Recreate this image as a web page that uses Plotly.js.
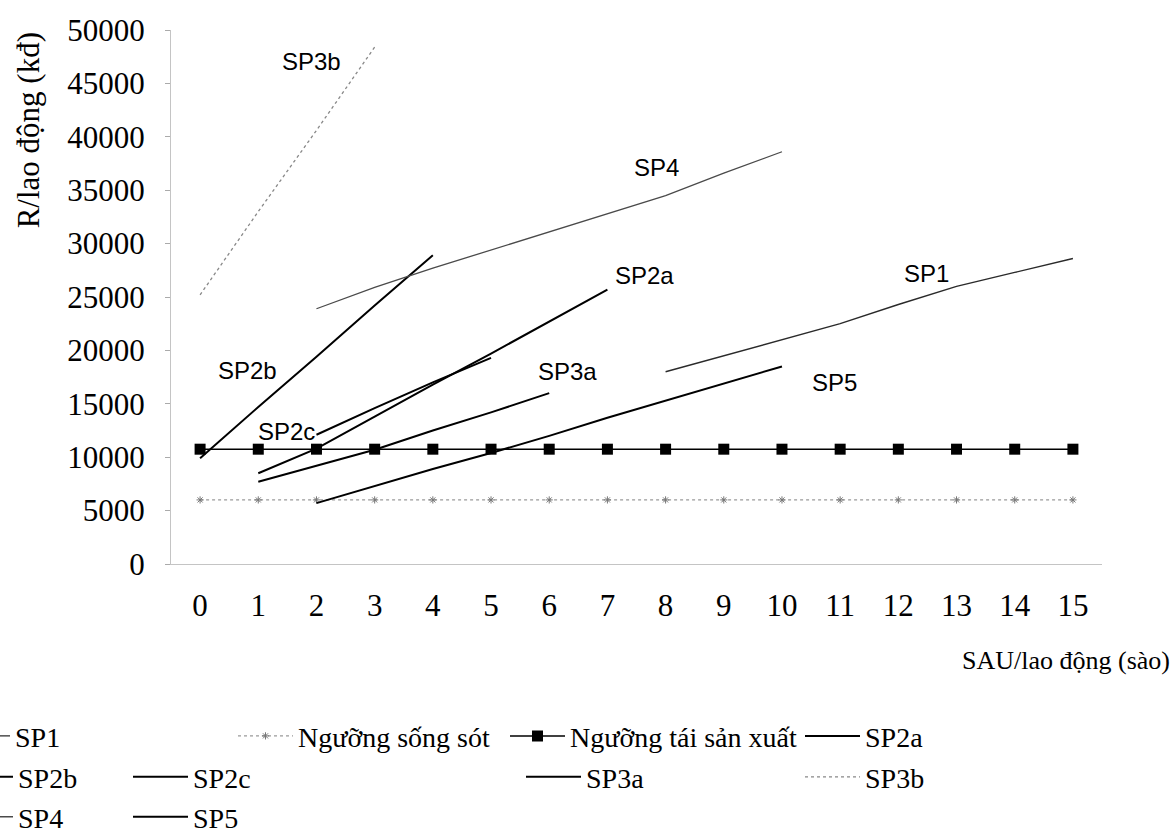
<!DOCTYPE html>
<html>
<head>
<meta charset="utf-8">
<script src="https://cdn.plot.ly/plotly-3.0.1.min.js"></script>
<style>html,body{margin:0;padding:0;background:#fff;}#chart{width:1174px;height:839px;}</style>
</head>
<body>
<div id="chart"></div>
<script>
// ---- data ----
const xAll = [0,1,2,3,4,5,6,7,8,9,10,11,12,13,14,15];
const survival = [6000,6000,6000,6000,6000,6000,6000,6000,6000,6000,6000,6000,6000,6000,6000,6000];
const reproduction = [10750,10750,10750,10750,10750,10750,10750,10750,10750,10750,10750,10750,10750,10750,10750,10750];
const sp1X = [8,9,10,11,12,13,14,15];
const sp1Y = [18000,19500,21000,22500,24300,26000,27300,28600];
const sp2aX = [1,2,3,4,5,6,7];
const sp2aY = [8500,10800,13800,16800,19700,22700,25700];
const sp2bX = [0,1,2,3,4];
const sp2bY = [9900,14700,19400,24200,28900];
const sp2cX = [2,3,4,5];
const sp2cY = [12100,14600,17000,19300];
const sp3aX = [1,2,3,4,5,6];
const sp3aY = [7700,9200,10700,12500,14200,16000];
const sp3bX = [0,1,2,3];
const sp3bY = [25200,33000,40600,48400];
const sp4X = [2,3,4,5,6,7,8,9,10];
const sp4Y = [23900,25900,27700,29400,31100,32800,34500,36600,38600];
const sp5X = [2,3,4,5,6,7,8,9,10];
const sp5Y = [5700,7300,8900,10400,12000,13700,15300,16900,18500];
const names = ['SP1','Ngưỡng sống sót','Ngưỡng tái sản xuất','SP2a','SP2b','SP2c','SP3a','SP3b','SP4','SP5'];
const yTicks = [0,5000,10000,15000,20000,25000,30000,35000,40000,45000,50000];

// ---- geometry ----
const W = 1174, H = 839;
const mL = 171, mR = 72, mT = 29.5, mB = 274.5;
const pw = W - mL - mR, ph = H - mT - mB;
const ITEM_W = 55;
const TXT_OFF = ITEM_W + 12;
function lgPos(textLeftPx, cyPx){
  return {x:(textLeftPx - TXT_OFF - mL)/pw, y:(H - mB - cyPx)/ph, xanchor:'left', yanchor:'middle',
          bgcolor:'rgba(0,0,0,0)', borderwidth:0, itemwidth:ITEM_W,
          font:{family:'Liberation Serif', size:28, color:'#000'}};
}

const serif = 'Liberation Serif';
const blackLine = {color:'#000', width:2};

const traces = [
  {x:sp1X, y:sp1Y, name:names[0], mode:'lines', line:{color:'#2a2a2a', width:1.4}, legend:'legend'},
  {x:xAll, y:survival, name:names[1], mode:'lines+markers', line:{color:'#9a9a9a', width:1.2, dash:'dot'},
   marker:{symbol:'asterisk', size:6, color:'#777', line:{color:'#777', width:1}}, legend:'legend2'},
  {x:xAll, y:reproduction, name:names[2], mode:'lines+markers', line:{color:'#000', width:1.5},
   marker:{symbol:'square', size:11, color:'#000'}, legend:'legend3'},
  {x:sp2aX, y:sp2aY, name:names[3], mode:'lines', line:blackLine, legend:'legend4'},
  {x:sp2bX, y:sp2bY, name:names[4], mode:'lines', line:blackLine, legend:'legend5'},
  {x:sp2cX, y:sp2cY, name:names[5], mode:'lines', line:blackLine, legend:'legend6'},
  {x:sp3aX, y:sp3aY, name:names[6], mode:'lines', line:blackLine, legend:'legend7'},
  {x:sp3bX, y:sp3bY, name:names[7], mode:'lines', line:{color:'#888', width:1.3, dash:'dot'}, legend:'legend8'},
  {x:sp4X, y:sp4Y, name:names[8], mode:'lines', line:{color:'#4a4a4a', width:1.3}, legend:'legend9'},
  {x:sp5X, y:sp5Y, name:names[9], mode:'lines', line:blackLine, legend:'legend10'}
];

const labelFont = {family:'Liberation Sans', size:24, color:'#000'};
const seriesLabels = [
  {text:'SP3b', x:1.91, y:47060},
  {text:'SP4', x:7.85, y:37150},
  {text:'SP2a', x:7.63, y:27050},
  {text:'SP1', x:12.49, y:27240},
  {text:'SP2b', x:0.82, y:18080},
  {text:'SP3a', x:6.31, y:17990},
  {text:'SP5', x:10.91, y:16960},
  {text:'SP2c', x:1.49, y:12380}
];
const annotations = seriesLabels.map(l => ({text:l.text, x:l.x, y:l.y, xref:'x', yref:'y',
  showarrow:false, font:labelFont, xanchor:'center', yanchor:'middle'}));
annotations.push({text:'R/lao động (kđ)', textangle:-90, xref:'paper', yref:'paper',
  x:(28 - mL)/pw, y:(H - mB - 130)/ph, xanchor:'center', yanchor:'middle', showarrow:false,
  font:{family:serif, size:31, color:'#000'}});
annotations.push({text:'SAU/lao động (sào)', xref:'paper', yref:'paper',
  x:(1172 - mL)/pw, y:(H - mB - 661)/ph, xanchor:'right', yanchor:'middle', showarrow:false,
  font:{family:serif, size:26, color:'#000'}});

const layout = {
  width:W, height:H,
  margin:{l:mL, r:mR, t:mT, b:mB, autoexpand:false},
  paper_bgcolor:'#fff', plot_bgcolor:'#fff',
  showlegend:true,
  xaxis:{range:[-0.5,15.5], tickvals:xAll, ticktext:xAll.map(String), showgrid:false, zeroline:false,
    showline:true, linecolor:'#c4c4c4', linewidth:1, ticks:'', ticklabelstandoff:14,
    tickfont:{family:serif, size:31, color:'#000'}},
  yaxis:{range:[0,50000], tickvals:yTicks, ticktext:yTicks.map(String), showgrid:false, zeroline:false,
    showline:true, linecolor:'#c4c4c4', linewidth:1, ticks:'outside', ticklen:5, tickcolor:'#aaa',
    ticklabelstandoff:14, tickfont:{family:serif, size:31, color:'#000'}},
  legend:lgPos(17,737),
  legend2:lgPos(300,737),
  legend3:lgPos(572,737),
  legend4:lgPos(867,737),
  legend5:lgPos(20,778),
  legend6:lgPos(195,778),
  legend7:lgPos(588,778),
  legend8:lgPos(867,778),
  legend9:lgPos(20,818),
  legend10:lgPos(195,818),
  annotations:annotations
};

Plotly.newPlot('chart', traces, layout, {staticPlot:true, displayModeBar:false});
</script>
</body>
</html>
